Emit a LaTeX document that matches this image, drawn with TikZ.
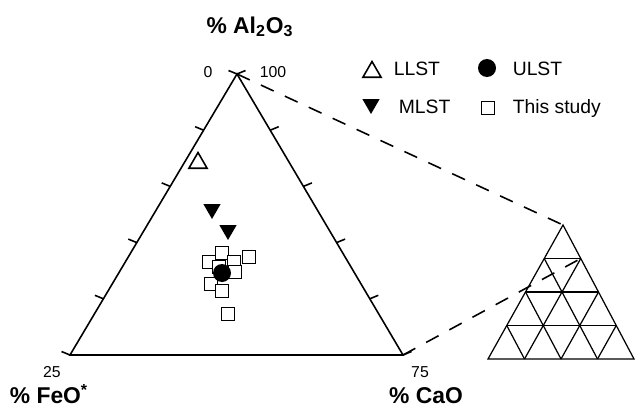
\documentclass[tikz,border=0pt]{standalone}
\usepackage{fontspec}
\setmainfont{Liberation Sans}
\usetikzlibrary{shapes.geometric,calc}

\begin{document}
\begin{tikzpicture}[x=0.02cm,y=-0.02cm,line width=0.9pt,
		axislabel/.style={font=\fontsize{13}{15}\selectfont\bfseries,anchor=base},
		ticklabel/.style={font=\fontsize{9}{11}\selectfont},
		keytext/.style={font=\fontsize{11}{13}\selectfont,anchor=base west},
		llst/.style={draw,regular polygon,regular polygon sides=3,minimum size=0.42cm,line width=0.9pt},
		mlst/.style={fill,regular polygon,regular polygon sides=3,shape border rotate=180,minimum size=0.4cm},
		ulst/.style={fill,circle,minimum size=0.36cm},
		ours/.style={draw,fill=white,rectangle,minimum size=0.26cm,line width=1pt},
		zoomline/.style={dash pattern=on 8pt off 7pt},
		grid/.style={line width=0.7pt}]
		\tikzstyle{every node}+=[inner sep=0pt]
		\useasboundingbox (0,0) rectangle (635,409);
		\coordinate (A) at (237,74);
		\coordinate (F) at (70,355);
		\coordinate (C) at (403,355);
		\draw (A) -- (F) -- (C) -- cycle;
		\foreach \i in {0,...,5} {
			\draw ($(A)!\i/5!(F)$) -- ++(-8.5,-3.5);
			\draw ($(A)!\i/5!(C)$) -- ++(8.5,-3.5);
		}
		\coordinate (a) at (563,225);
		\coordinate (l) at (488,359);
		\coordinate (r) at (634,359);
		\draw [grid] (a) -- (l) -- (r) -- cycle;
		\foreach \i in {1,2,3} {
			\draw [grid] ($(a)!\i/4!(l)$) -- ($(a)!\i/4!(r)$);
			\draw [grid] ($(l)!\i/4!(r)$) -- ($(a)!\i/4!(r)$);
			\draw [grid] ($(l)!\i/4!(r)$) -- ($(a)!{1-\i/4}!(l)$);
		}
		\coordinate (r1) at ($(a)!1/4!(r)$);
		\draw [zoomline] (A) -- (a);
		\draw [zoomline] (C) -- (r1);
		\node [axislabel] (alo) at (250,33) {\% Al\textsubscript{2}O\textsubscript{3}};
		\node [axislabel] (feo) at (49,403) {\% FeO\textsuperscript{*}};
		\node [axislabel] (cao) at (426,403) {\% CaO};
		\node [ticklabel] (t0) at (208,72) {0};
		\node [ticklabel] (t100) at (273,72) {100};
		\node [ticklabel] (t25) at (52,372) {25};
		\node [ticklabel] (t75) at (420,372) {75};
		\node [llst] (kll) at (372,72) {};
		\node [keytext] (kllt) at (393,75) {LLST};
		\node [ulst] (kul) at (487,68) {};
		\node [keytext] (kult) at (512,75) {ULST};
		\node [mlst] (kml) at (371,104) {};
		\node [keytext] (kmlt) at (398,113) {MLST};
		\node [ours] (kus) at (488,108) {};
		\node [keytext] (kust) at (512,113) {This study};
		\node [llst] (l1) at (198,163) {};
		\node [mlst] (m1) at (212,209) {};
		\node [mlst] (m2) at (228,230) {};
		\foreach \x/\y [count=\k] in {222/253,249/257,209/262,234/262,219/267,235/272,211/284,222/291,228/314}
			\node [ours] (s\k) at (\x,\y) {};
		\node [ulst] (u1) at (222,273) {};
\end{tikzpicture}
\end{document}
